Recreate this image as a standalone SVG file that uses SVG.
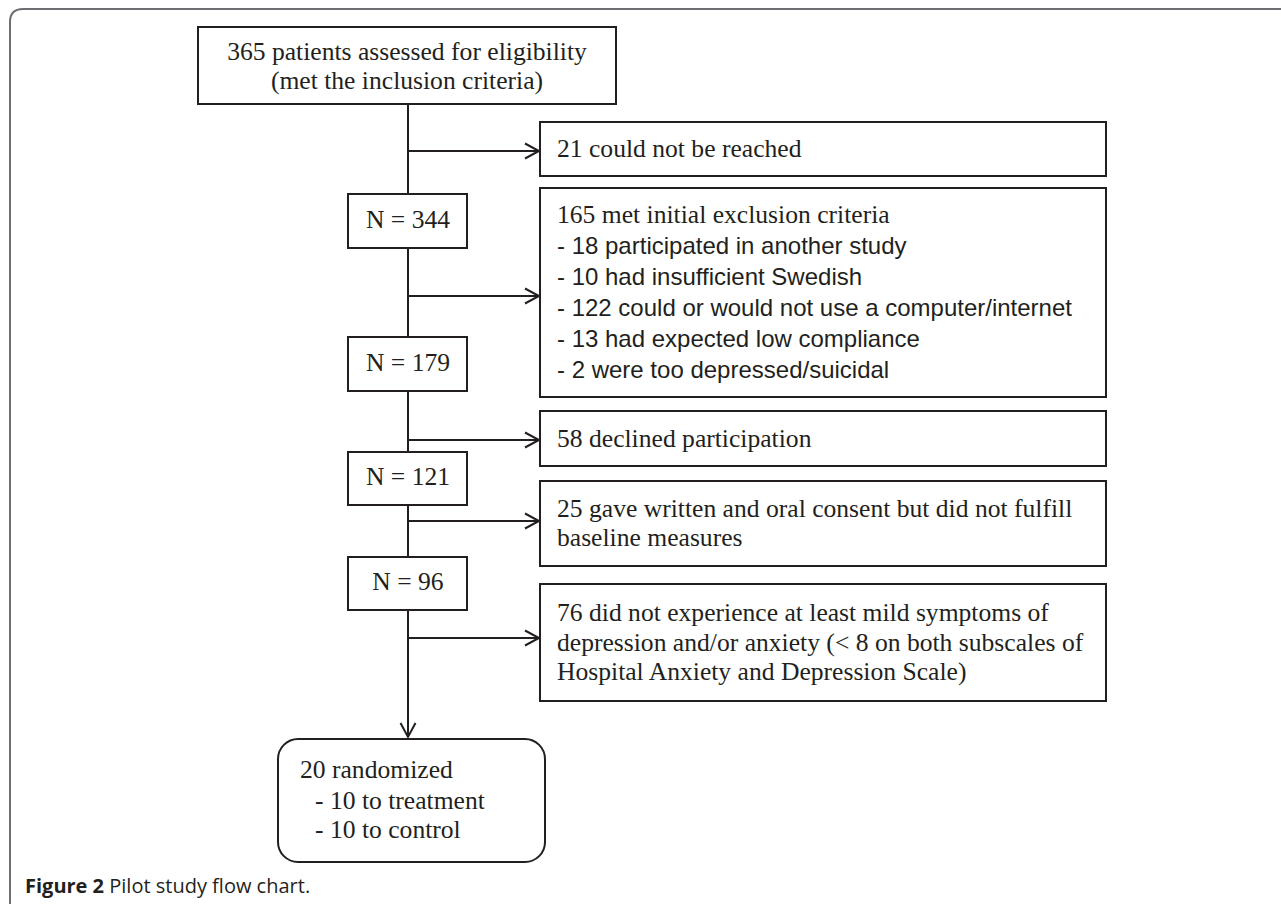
<svg xmlns="http://www.w3.org/2000/svg" width="1281" height="904" viewBox="0 0 1281 904">
<style>
.box{fill:#fff;stroke:#231f20;stroke-width:2}
.ser{font-family:"Liberation Serif","Times New Roman",serif;font-size:25.6px;fill:#231f20}
.san{font-family:"Liberation Sans",Arial,sans-serif;font-size:24px;fill:#231f20}
.mid{text-anchor:middle}
.ln{fill:none;stroke:#231f20;stroke-width:2}
.cap{font-family:"Open Sans","Liberation Sans",sans-serif;font-size:20px;fill:#231f20}
</style>
<defs>
<marker id="arr" markerUnits="userSpaceOnUse" markerWidth="18" markerHeight="20" refX="15" refY="9" orient="auto">
<path d="M1,1.5 L15,9 L1,16.5" fill="none" stroke="#231f20" stroke-width="2"/>
</marker>
</defs>
<rect width="1281" height="904" fill="#fff"/>
<path d="M10,904 L10,22 Q10,9 23,9 L1281,9" fill="none" stroke="#6d6e71" stroke-width="2"/>

<g id="connectors">
<path class="ln" d="M408,104 V194"/>
<path class="ln" d="M408,248 V337"/>
<path class="ln" d="M408,391 V452"/>
<path class="ln" d="M408,505 V557"/>
<path class="ln" d="M408,610 V737" marker-end="url(#arr)"/>
<path class="ln" d="M408,151 H539" marker-end="url(#arr)"/>
<path class="ln" d="M408,296 H539" marker-end="url(#arr)"/>
<path class="ln" d="M408,440 H539" marker-end="url(#arr)"/>
<path class="ln" d="M408,521 H539" marker-end="url(#arr)"/>
<path class="ln" d="M408,638 H539" marker-end="url(#arr)"/>
</g>

<g id="n-start">
<rect class="box" x="198" y="27" width="418" height="77"/>
<text class="ser mid" x="407" y="60">365 patients assessed for eligibility</text>
<text class="ser mid" x="407" y="89">(met the inclusion criteria)</text>
</g>

<g id="n-unreached">
<rect class="box" x="540" y="122" width="566" height="54"/>
<text class="ser" x="557" y="157">21 could not be reached</text>
</g>

<g id="n-344">
<rect class="box" x="348" y="194" width="119" height="54"/>
<text class="ser mid" x="408" y="228">N = 344</text>
</g>

<g id="n-excluded">
<rect class="box" x="540" y="188" width="566" height="209"/>
<text class="ser" x="557" y="223">165 met initial exclusion criteria</text>
<text class="san" x="557" y="254">- 18 participated in another study</text>
<text class="san" x="557" y="285">- 10 had insufficient Swedish</text>
<text class="san" x="557" y="316">- 122 could or would not use a computer/internet</text>
<text class="san" x="557" y="347">- 13 had expected low compliance</text>
<text class="san" x="557" y="378">- 2 were too depressed/suicidal</text>
</g>

<g id="n-179">
<rect class="box" x="348" y="337" width="119" height="54"/>
<text class="ser mid" x="408" y="371">N = 179</text>
</g>

<g id="n-declined">
<rect class="box" x="540" y="411" width="566" height="55"/>
<text class="ser" x="557" y="447">58 declined participation</text>
</g>

<g id="n-121">
<rect class="box" x="348" y="452" width="119" height="53"/>
<text class="ser mid" x="408" y="485">N = 121</text>
</g>

<g id="n-baseline">
<rect class="box" x="540" y="481" width="566" height="85"/>
<text class="ser" x="557" y="517">25 gave written and oral consent but did not fulfill</text>
<text class="ser" x="557" y="546">baseline measures</text>
</g>

<g id="n-96">
<rect class="box" x="348" y="557" width="119" height="53"/>
<text class="ser mid" x="408" y="590">N = 96</text>
</g>

<g id="n-symptoms">
<rect class="box" x="540" y="584" width="566" height="117"/>
<text class="ser" x="557" y="621">76 did not experience at least mild symptoms of</text>
<text class="ser" x="557" y="651">depression and/or anxiety (&lt; 8 on both subscales of</text>
<text class="ser" x="557" y="680">Hospital Anxiety and Depression Scale)</text>
</g>

<g id="n-randomized">
<rect class="box" x="278" y="739" width="267" height="123" rx="20" ry="20"/>
<text class="ser" x="300" y="778">20 randomized</text>
<text class="ser" x="315" y="809">- 10 to treatment</text>
<text class="ser" x="315" y="838">- 10 to control</text>
</g>

<text class="cap" x="25" y="893"><tspan font-weight="bold">Figure 2</tspan> Pilot study flow chart.</text>
</svg>
